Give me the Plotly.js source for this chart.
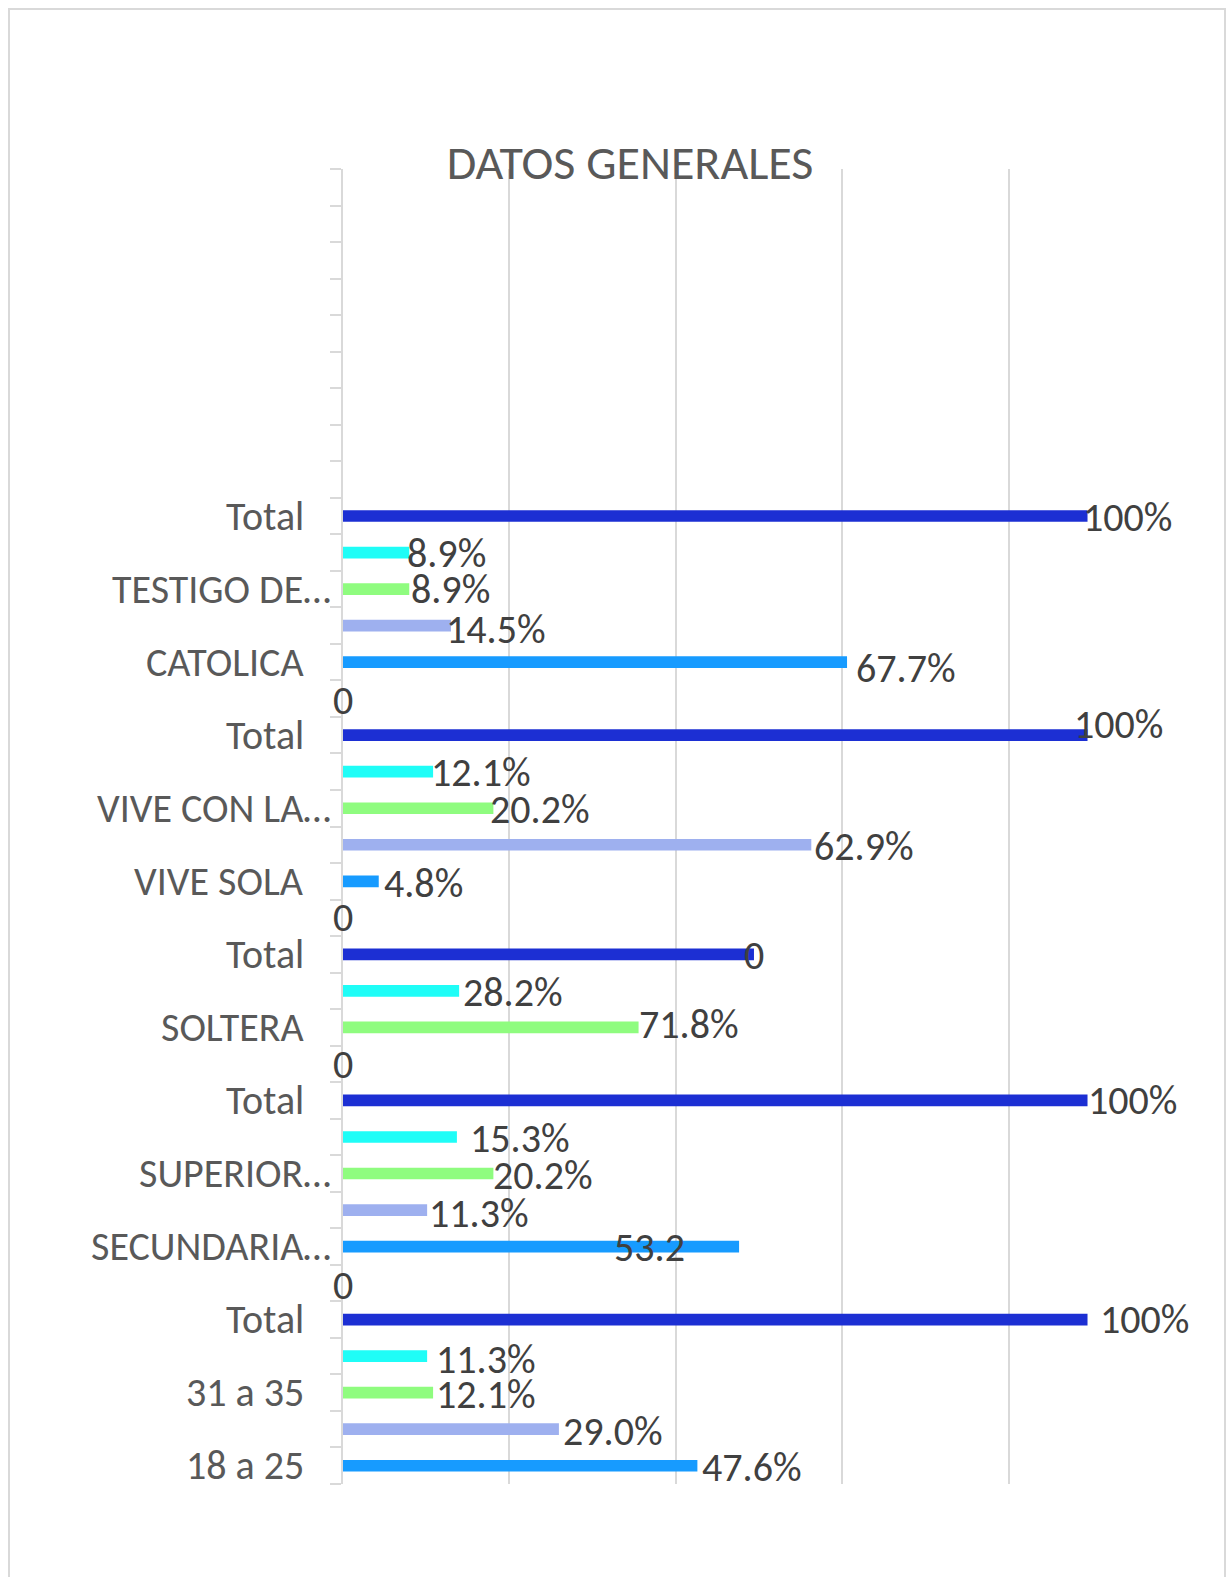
<!DOCTYPE html>
<html>
<head>
<meta charset="utf-8">
<script src="https://cdn.plot.ly/plotly-3.0.1.min.js"></script>
<style>
  html, body { margin: 0; padding: 0; background: #fff; }
  #wrap { position: relative; width: 1232px; height: 1577px; overflow: hidden; }
  #chart { position: absolute; left: 0; top: 0; width: 1232px; height: 1577px; }
  #frame { position: absolute; left: 8px; top: 8px; width: 1214px; height: 1620px;
           border: 2px solid #d9d9d9; pointer-events: none; }
</style>
</head>
<body>
<div id="wrap">
  <div id="chart"></div>
  <div id="frame"></div>
</div>
<script>
// ---- data (rows listed from bottom to top) ----
const rowLabels = ['18 a 25', '', '31 a 35', '', 'Total', '', 'SECUNDARIA…', '', 'SUPERIOR…', '',
                   'Total', '', 'SOLTERA', '', 'Total', '', 'VIVE SOLA', '', 'VIVE CON LA…', '',
                   'Total', '', 'CATOLICA', '', 'TESTIGO DE…', '', 'Total'];
// bar lengths as drawn in the original (fraction of the total)
const values = [0.476, 0.290, 0.121, 0.113, 1.0, 0, 0.532, 0.113, 0.202, 0.153,
                1.0, 0, 0.397, 0.156, 0.552, 0, 0.048, 0.629, 0.202, 0.121,
                1.0, 0, 0.677, 0.145, 0.089, 0.089, 1.0];
const valueLabels = ['47.6%', '29.0%', '12.1%', '11.3%', '100%', '0', '53.2', '11.3%', '20.2%', '15.3%',
                     '100%', '0', '71.8%', '28.2%', '0', '0', '4.8%', '62.9%', '20.2%', '12.1%',
                     '100%', '0', '67.7%', '14.5%', '8.9%', '8.9%', '100%'];
const seriesOf = ['S1', 'S2', 'S3', 'S4', 'T', '-', 'S1', 'S2', 'S3', 'S4',
                  'T', '-', 'S3', 'S4', 'T', '-', 'S1', 'S2', 'S3', 'S4',
                  'T', '-', 'S1', 'S2', 'S3', 'S4', 'T'];
const totalRows = 36;   // the category axis has empty slots above the data

// ---- styles ----
const seriesColors = { S1: '#179bff', S2: '#9eb0ef', S3: '#8ffc7f', S4: '#1ffdf7', T: '#1c2fd3', '-': 'rgba(0,0,0,0)' };
// hand-placed data label adjustments (px), as in the original
const labelDx = [3, 2, 1, 7, 10, 0, -90, 0, -2, 11, -2, 0, -2, 2, 0, 0, 3, 1, -5, -4, -16, 0, 7, -7, 0, -4, -7];
const labelDy = [2, 2, 2, 3, 0, 2, 1, 3, 2, 2, 0, 1, -3, 2, 1, 0, 2, 2, 1, 1, -11, 2, 6, 3.5, 0, 1, 1.5];
const FONT = 'Carlito, Calibri, Lato, sans-serif';

const rows = values.map((_, i) => i);
const gridStep = 0.2235;
const xMax = gridStep * 5;

const trace = {
  type: 'bar', orientation: 'h',
  x: values, y: rows, width: 0.32,
  marker: { color: seriesOf.map(s => seriesColors[s]) },
  hoverinfo: 'none'
};

const dataLabelAnns = rows.map(i => {
  const centered = valueLabels[i] === '0' || valueLabels[i] === '53.2';
  return {
    x: values[i], y: i, xref: 'x', yref: 'y',
    text: valueLabels[i], showarrow: false,
    xanchor: centered ? 'center' : 'left', yanchor: 'middle',
    xshift: labelDx[i], yshift: -labelDy[i],
    font: { family: FONT, size: 40, color: '#404040' }
  };
});

// category labels (truncated ones sit closer to the axis, as in the original)
const catLabelAnns = rows.filter(i => rowLabels[i] !== '').map(i => ({
  x: 0, y: i, xref: 'paper', yref: 'y',
  text: rowLabels[i], showarrow: false,
  xanchor: 'right', yanchor: 'middle',
  xshift: rowLabels[i].endsWith('…') ? -10 : -37, yshift: 0,
  font: { family: FONT, size: 40, color: '#595959' }
}));

const layout = {
  width: 1232, height: 1577,
  margin: { l: 343, r: 57, t: 169, b: 92.5 },
  paper_bgcolor: '#ffffff', plot_bgcolor: '#ffffff',
  font: { family: FONT },
  showlegend: false,
  title: {
    text: 'DATOS GENERALES',
    font: { family: FONT, size: 48, color: '#595959' },
    x: 630 / 1232, xref: 'container', xanchor: 'center',
    y: 1 - 162 / 1577, yref: 'container', yanchor: 'middle'
  },
  xaxis: {
    range: [0, xMax], tickmode: 'array',
    tickvals: [0, 1, 2, 3, 4, 5].map(k => k * gridStep),
    showticklabels: false, ticks: '',
    showgrid: true, gridcolor: '#d9d9d9', gridwidth: 2,
    zeroline: false, showline: false, fixedrange: true
  },
  yaxis: {
    range: [-0.5, totalRows - 0.5], tickmode: 'array',
    tickvals: [], showticklabels: false, ticks: '',
    showgrid: false, zeroline: false,
    showline: true, linecolor: '#d9d9d9', linewidth: 2,
    minor: { tickmode: 'linear', tick0: -0.5, dtick: 1, ticks: 'outside', ticklen: 11,
             tickcolor: '#d9d9d9', tickwidth: 2, showgrid: false },
    fixedrange: true
  },
  annotations: dataLabelAnns.concat(catLabelAnns)
};

Plotly.newPlot('chart', [trace], layout, { staticPlot: true, displayModeBar: false });
</script>
</body>
</html>
